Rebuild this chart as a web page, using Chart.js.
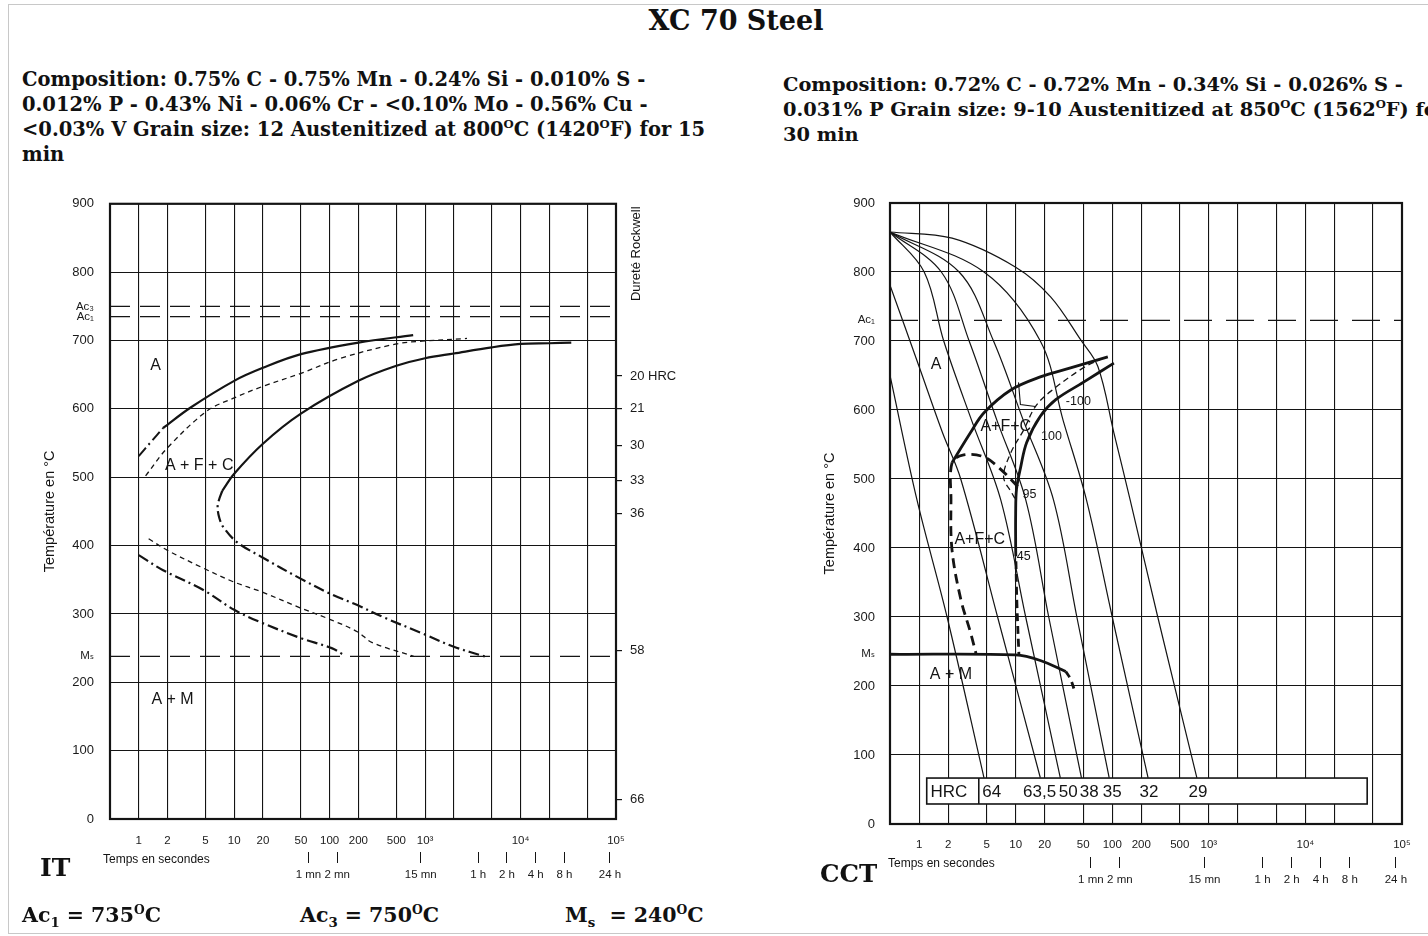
<!DOCTYPE html>
<html><head><meta charset="utf-8">
<script src="https://cdn.jsdelivr.net/npm/chart.js@4.4.1/dist/chart.umd.min.js"></script>
<style>
html,body{margin:0;padding:0;background:#fff;width:1428px;height:936px;overflow:hidden;position:relative;}
.frame{position:absolute;left:8px;top:4px;width:1440px;height:928px;border:1px solid #c8c8c8;}
.serif{font-family:"DejaVu Serif",serif;font-weight:bold;color:#111;position:absolute;white-space:nowrap;}
#title{left:0;width:1472px;text-align:center;top:5px;font-size:27px;}
#compL{left:22px;top:67px;font-size:19.5px;line-height:25px;}
#compR{left:783px;top:72px;font-size:19.4px;line-height:25px;}
.sp{font-size:60%;position:relative;top:-0.65em;line-height:0;}
.sb{font-size:65%;position:relative;top:0.35em;line-height:0;}
#itLab{left:40px;top:853px;font-size:25px;}
#cctLab{left:820px;top:859px;font-size:24.5px;}
.bot{top:903px;font-size:20.5px;}
canvas{position:absolute;}
#itCanvas{left:20px;top:180px;}
#cctCanvas{left:800px;top:180px;}
</style></head>
<body>
<div class="frame"></div>
<div id="title" class="serif">XC 70 Steel</div>
<div id="compL" class="serif">Composition: 0.75% C - 0.75% Mn - 0.24% Si - 0.010% S -<br>0.012% P - 0.43% Ni - 0.06% Cr - &lt;0.10% Mo - 0.56% Cu -<br>&lt;0.03% V Grain size: 12 Austenitized at 800<span class="sp">O</span>C (1420<span class="sp">O</span>F) for 15<br>min</div>
<div id="compR" class="serif">Composition: 0.72% C - 0.72% Mn - 0.34% Si - 0.026% S -<br>0.031% P Grain size: 9-10 Austenitized at 850<span class="sp">O</span>C (1562<span class="sp">O</span>F) for<br>30 min</div>
<canvas id="itCanvas" width="680" height="708"></canvas>
<canvas id="cctCanvas" width="628" height="713"></canvas>
<div id="itLab" class="serif">IT</div>
<div id="cctLab" class="serif">CCT</div>
<div class="serif bot" style="left:22px">Ac<span class="sb">1</span> = 735<span class="sp">O</span>C</div>
<div class="serif bot" style="left:300px">Ac<span class="sb">3</span> = 750<span class="sp">O</span>C</div>
<div class="serif bot" style="left:565px">M<span class="sb">s</span> &nbsp;= 240<span class="sp">O</span>C</div>
<script>
// ---------- axes ----------
const timeTicks = [0.5,1,2,5,10,20,50,100,200,500,1000,2000,5000,10000,20000,50000,100000];
const timeTickLabels = ['','1','2','5','10','20','50','100','200','500','10³','','','10⁴','','','10⁵'];
const durationTicks = [60,120,900,3600,7200,14400,28800,86400];
const durationLabels = ['1 mn','2 mn','15 mn','1 h','2 h','4 h','8 h','24 h'];
const tempTicks = [0,100,200,300,400,500,600,700,800,900];

// ---------- IT diagram ----------
const itCritTemps = [750, 735, 238];
const itCritLabels = ['Ac₃', 'Ac₁', 'Mₛ'];
const hardnessTemps = [29, 246, 447, 495, 546, 600, 648];
const hardnessLabels = ['66', '58', '36', '33', '30', '21', '20 HRC'];

const itStartDashDot = [[1.0,531],[1.35,552],[1.8,572]];
const itStartSolid = [[1.8,572],[3.5,602],[10,641],[20,660],[50,680],[200,697],[750,708]];
const itHalfDashed = [[1.18,502],[2,543],[5.2,597],[10,616],[20,633],[50,652],[130,674],[500,695],[930,699],[2750,703]];
const itEndSolid = [[7.5,480],[10,505],[20,549],[50,593],[200,641],[500,663],[1000,674],[2000,681],[5000,690],[10000,695],[20000,696],[34000,697]];
const itEndDashDot = [[7.5,480],[6.9,466],[6.7,455],[7.0,440],[7.7,427],[10.7,405],[19.6,383],[49,352],[107,328],[195,313],[355,296],[1030,269],[2000,252],[4400,237]];
const itLowDashed = [[1.27,410],[2,393],[4.75,367],[9.8,347],[19.6,332],[49,309],[105,291],[195,274],[280,258],[760,238]];
const itLowDashDot = [[1,386],[1.8,364],[4.75,335],[10,306],[19.6,287],[49,265],[105,250],[137,241]];
const itRegionLabels = [[1.5,663,'A'],[4.3,517,'A + F + C'],[2.26,175,'A + M']];

// ---------- CCT diagram ----------
const cctCritTemps = [730, 246];
const cctCritLabels = ['Ac₁', 'Mₛ'];
const coolA  = [[0.5,650],[0.95,470],[1.95,300],[4.7,67]];
const cool2  = [[0.5,781],[1.0,663],[1.75,567],[2.7,500],[6.5,300],[18,67]];
const cool3  = [[0.5,858],[1.13,800],[1.8,700],[3.5,585],[7,470],[12.7,300],[29,67]];
const cool4  = [[0.5,858],[1.7,800],[3.3,700],[6.4,585],[12.7,470],[22,300],[48,67]];
const cool5  = [[0.5,858],[2.6,800],[5.9,700],[12,585],[24.6,470],[43,300],[93,67]];
const cool6  = [[0.5,858],[4.7,800],[18,700],[31,585],[54,470],[100,300],[235,67]];
const cool7  = [[0.5,858],[2.2,849],[10,807],[23,764],[47,702],[71,663],[104,567],[153,470],[296,300],[752,67]];
const cctStart = [[2.2,524],[3.4,567],[4.7,596],[8.9,629],[18,648],[37,661],[90,677]];
const cctEndSolid = [[10,400],[10,450],[10.2,485],[11.3,518],[13,553],[18,591],[26,615],[50,640],[104,668]];
const cctEndDashed = [[10,400],[10.3,320],[10.8,246]];
const cctHalfDashed = [[80,675],[50,661],[23,627],[16,605],[12.1,571],[8.9,538],[7.5,503],[9.1,480],[10,470]];
const cctLeftDashed = [[10.5,489],[7.0,514],[4.7,532],[2.9,535],[2.2,524],[2.14,470],[2.19,398],[2.7,326],[3.4,278],[3.9,246]];
const cctLeader = [[10.7,640],[11.2,608],[16,605]];
const cctMsSolid = [[0.5,246],[10,245],[18,237],[33,221]];
const cctMsDashed = [[33,221],[37,210],[41,192]];
const cctRegionLabels = [[1.5,666,'A'],[7.9,576,'A+F+C'],[4.25,412,'A+F+C'],[2.14,217,'A + M']];
const cctSmallLabels = [[13.9,478,'95'],[23.5,561,'100'],[44.6,612,'-100'],[12.1,388,'45']];
const hrcTimes = [5.66,17.7,35,57.8,100,240,773];
const hrcValues = ['64','63,5','50','38','35','32','29'];
const hrcBox = {t0:1.2, t1:43600, T0:29, T1:66.6, divider:4.15, labelT:2.04};

// ---------- helpers ----------
Chart.defaults.font.family = '"Liberation Sans","DejaVu Sans",sans-serif';
Chart.defaults.color = '#1a1a1a';
const INK = '#141414';
const DASHDOT = [11,4,2,4];
const DASHED = [5,4];
const LONGDASH = [20,10];

function ds(points, width, dash, tension) {
  return {data: points.map(p => ({x:p[0], y:p[1]})), showLine:true, borderColor:INK,
    borderWidth:width, borderDash:dash || [], pointRadius:0, fill:false,
    tension: tension === undefined ? 0.35 : tension, borderCapStyle:'butt'};
}
function hline(T, width, dash) { return ds([[0.5,T],[100000,T]], width, dash, 0); }

function xScales(labelPad) {
  return {
    x: {type:'logarithmic', min:0.5, max:100000, position:'bottom', weight:0,
      afterBuildTicks: s => { s.ticks = timeTicks.map(v => ({value:v})); },
      ticks:{autoSkip:false, maxRotation:0, padding:labelPad, font:{size:11.5}, callback:(v,i)=>timeTickLabels[i]},
      grid:{color:INK, lineWidth:1.1, drawTicks:false}, border:{display:false},
      afterFit: s => { s.height = 33; }},
    x2: {type:'logarithmic', min:0.5, max:100000, position:'bottom', weight:1,
      afterBuildTicks: s => { s.ticks = durationTicks.map(v => ({value:v})); },
      ticks:{autoSkip:false, maxRotation:0, padding:5, font:{size:11.5}, callback:(v,i)=>durationLabels[i]},
      grid:{drawOnChartArea:false, drawTicks:true, tickLength:11, color:INK, lineWidth:1}, border:{display:false},
      afterFit: s => { s.height = 36; }}
  };
}
function yScale(critTemps, critLabels, pad) {
  const all = tempTicks.concat(critTemps).sort((a,b)=>a-b);
  return {type:'linear', min:0, max:900, position:'left',
    afterBuildTicks: s => { s.ticks = all.map(v => ({value:v})); },
    ticks:{autoSkip:false, padding:pad,
      font: c => ({size: (c.tick && critTemps.includes(c.tick.value)) ? 11.5 : 13}),
      callback: v => { const k = critTemps.indexOf(v); return k >= 0 ? critLabels[k] : String(v); }},
    grid:{color: c => (c.tick && critTemps.includes(c.tick.value)) ? 'rgba(0,0,0,0)' : INK, lineWidth:1.1, drawTicks:false},
    border:{display:false},
    afterFit: s => { s.width = 90; }};
}
function textAt(ctx, x, y, txt, font, align) {
  ctx.font = font; ctx.fillStyle = INK; ctx.textAlign = align || 'center'; ctx.textBaseline = 'middle';
  ctx.fillText(txt, x, y);
}
function overlay(cfg) {
  return {id:'overlay', afterDraw(chart) {
    const {ctx, chartArea:a, scales} = chart;
    const X = v => scales.x.getPixelForValue(v), Y = v => scales.y.getPixelForValue(v);
    ctx.save();
    if (cfg.box) {
      const b = cfg.box;
      const x0 = X(b.t0), x1 = X(b.t1), y0 = Y(b.T1), y1 = Y(b.T0);
      ctx.fillStyle = '#fff'; ctx.fillRect(x0, y0, x1-x0, y1-y0);
      ctx.strokeStyle = INK; ctx.lineWidth = 1.6; ctx.strokeRect(x0, y0, x1-x0, y1-y0);
      ctx.beginPath(); ctx.moveTo(X(b.divider), y0); ctx.lineTo(X(b.divider), y1); ctx.stroke();
      const ym = (y0+y1)/2 + 1;
      textAt(ctx, X(b.labelT), ym, 'HRC', '17px "Liberation Sans"');
      hrcTimes.forEach((t,i) => textAt(ctx, X(t), ym, hrcValues[i], '17px "Liberation Sans"'));
    }
    cfg.regions.forEach(r => textAt(ctx, X(r[0]), Y(r[1]), r[2], '16px "Liberation Sans"'));
    (cfg.small || []).forEach(r => textAt(ctx, X(r[0]), Y(r[1]), r[2], '12.5px "Liberation Sans"'));
    ctx.strokeStyle = INK; ctx.lineWidth = 2.2;
    ctx.strokeRect(a.left, a.top, a.right-a.left, a.bottom-a.top);
    textAt(ctx, a.left + cfg.tempsDx, a.bottom + cfg.tempsDy, 'Temps en secondes', '12px "Liberation Sans"', 'left');
    ctx.save(); ctx.translate(a.left - 60, (a.top+a.bottom)/2); ctx.rotate(-Math.PI/2);
    textAt(ctx, 0, 0, 'Température en °C', '14.5px "Liberation Sans"'); ctx.restore();
    if (cfg.rockwell) {
      ctx.save(); ctx.translate(a.right + 20, a.top + 50); ctx.rotate(-Math.PI/2);
      textAt(ctx, 0, 0, 'Dureté Rockwell', '13px "Liberation Sans"'); ctx.restore();
    }
    ctx.restore();
  }};
}
const baseOpts = {responsive:false, animation:false, events:[],
  plugins:{legend:{display:false}, tooltip:{enabled:false}}};

// ---------- IT chart ----------
new Chart(document.getElementById('itCanvas'), {
  type:'scatter',
  data:{datasets:[
    hline(itCritTemps[0], 1.4, LONGDASH), hline(itCritTemps[1], 1.4, LONGDASH), hline(itCritTemps[2], 1.3, LONGDASH),
    ds(itStartDashDot, 2, DASHDOT), ds(itStartSolid, 2.2),
    ds(itHalfDashed, 1.3, DASHED),
    ds(itEndSolid, 2.2), ds(itEndDashDot, 2.2, DASHDOT),
    ds(itLowDashed, 1.3, DASHED), ds(itLowDashDot, 2.2, DASHDOT)
  ]},
  options: Object.assign({}, baseOpts, {
    layout:{padding:{top:22, left:0, right:0, bottom:0}},
    scales: Object.assign(xScales(15), {
      y: yScale(itCritTemps, itCritLabels, 16),
      y2: {type:'linear', min:0, max:900, position:'right',
        afterBuildTicks: s => { s.ticks = hardnessTemps.map(v => ({value:v})); },
        ticks:{autoSkip:false, padding:8, font:{size:13}, callback:(v,i)=>hardnessLabels[i]},
        grid:{drawOnChartArea:false, drawTicks:true, tickLength:6, color:INK, lineWidth:1.2},
        border:{display:false}, afterFit: s => { s.width = 84; }}
    })
  }),
  plugins:[overlay({regions:itRegionLabels, rockwell:true, tempsDx:-7, tempsDy:41})]
});

// ---------- CCT chart ----------
new Chart(document.getElementById('cctCanvas'), {
  type:'scatter',
  data:{datasets:[
    hline(cctCritTemps[0], 1.3, [28,14]),
    ds(coolA,1.2), ds(cool2,1.2), ds(cool3,1.2), ds(cool4,1.2), ds(cool5,1.2), ds(cool6,1.2), ds(cool7,1.2),
    ds(cctStart, 2.8), ds(cctEndSolid, 2.8), ds(cctEndDashed, 2.8, [8,5]),
    ds(cctHalfDashed, 1.3, [6,4]), ds(cctLeftDashed, 2.8, [10,6]), ds(cctLeader, 1.1, [], 0),
    ds(cctMsSolid, 2.8), ds(cctMsDashed, 2.8, [7,5])
  ]},
  options: Object.assign({}, baseOpts, {
    layout:{padding:{top:23, left:0, right:26, bottom:0}},
    scales: Object.assign(xScales(14), { y: yScale(cctCritTemps, cctCritLabels, 15) })
  }),
  plugins:[overlay({regions:cctRegionLabels, small:cctSmallLabels, box:hrcBox, tempsDx:-2, tempsDy:40})]
});
</script>
</body></html>
